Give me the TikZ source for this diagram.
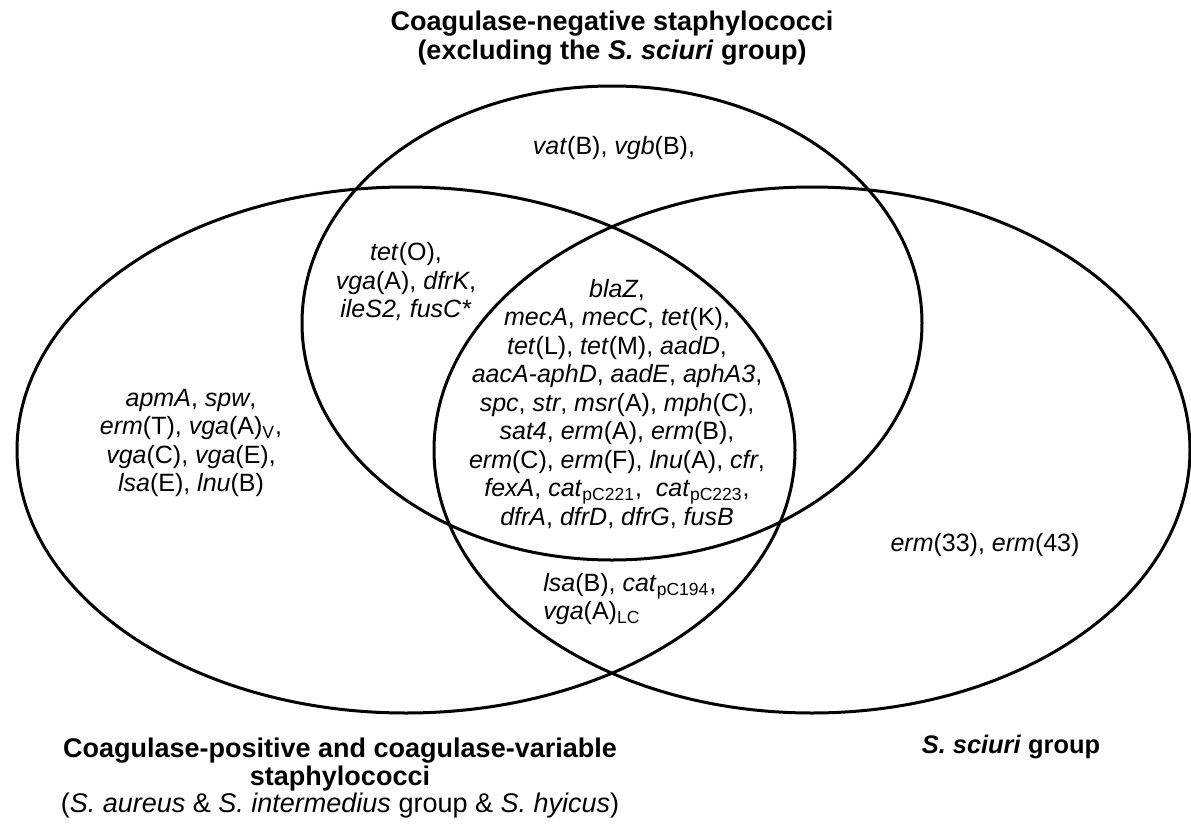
\documentclass[tikz,border=0pt]{standalone}
\usepackage{fontspec}
\setmainfont{Liberation Sans}
\newcommand{\gene}[1]{\textit{#1}}

\begin{document}
\begin{tikzpicture}[x=0.5pt,y=-0.5pt]
\tikzstyle{set}=[draw,line width=1.5pt]
\tikzstyle{genes}=[align=center,inner sep=0pt,font=\fontsize{12.5}{14.25}\selectfont]
\tikzstyle{setname}=[align=center,inner sep=0pt,font=\fontsize{13.5}{14.5}\selectfont\bfseries]
\useasboundingbox (0,0) rectangle (1191,831);
    % the three sets
    \draw[set] (612,323) ellipse [x radius=310, y radius=237];
    \draw[set] (406,450) ellipse [x radius=389, y radius=263];
    \draw[set] (812,450) ellipse [x radius=378, y radius=263];
    % set names
    \node[setname] (cns) at (612,38) {Coagulase-negative staphylococci\\(excluding the \textit{S. sciuri} group)};
    \node[setname,font=\fontsize{13.5}{12.5}\selectfont\bfseries] (cps) at (340,778) {Coagulase-positive and coagulase-variable\\
        staphylococci\\
        {\mdseries (\textit{S. aureus} \& \textit{S. intermedius} group \& \textit{S. hyicus})}};
    \node[setname,font=\fontsize{12.7}{14}\selectfont\bfseries] (sciuri) at (1011,747) {\textit{S. sciuri} group};
    % genes in each region
    \node[genes] (cnsonly) at (614,148) {\gene{vat}(B), \gene{vgb}(B),};
    \node[genes] (cnscps) at (406,282) {\gene{tet}(O),\\ \gene{vga}(A), \gene{dfrK},\\ \gene{ileS2, fusC*}};
    \node[genes] (core) at (617,404) {\gene{blaZ},\\
        \gene{mecA}, \gene{mecC}, \gene{tet}(K),\\
        \gene{tet}(L), \gene{tet}(M), \gene{aadD},\\
        \gene{aacA-aphD}, \gene{aadE}, \gene{aphA3},\\
        \gene{spc}, \gene{str}, \gene{msr}(A), \gene{mph}(C),\\
        \gene{sat4}, \gene{erm}(A), \gene{erm}(B),\\
        \gene{erm}(C), \gene{erm}(F), \gene{lnu}(A), \gene{cfr},\\
        \gene{fexA}, \gene{cat}\textsubscript{pC221},\ \ \gene{cat}\textsubscript{pC223},\\
        \gene{dfrA}, \gene{dfrD}, \gene{dfrG}, \gene{fusB}};
    \node[genes] (cpsonly) at (191,443) {\gene{apmA}, \gene{spw},\\
        \gene{erm}(T), \gene{vga}(A)\textsubscript{V},\\
        \gene{vga}(C), \gene{vga}(E),\\
        \gene{lsa}(E), \gene{lnu}(B)};
    \node[genes,align=left,anchor=west] (cpssciuri) at (543,599) {\gene{lsa}(B), \gene{cat}\textsubscript{pC194},\\
        \gene{vga}(A)\textsubscript{LC}};
    \node[genes] (sciurionly) at (985,545) {\gene{erm}(33), \gene{erm}(43)};
\end{tikzpicture}
\end{document}
